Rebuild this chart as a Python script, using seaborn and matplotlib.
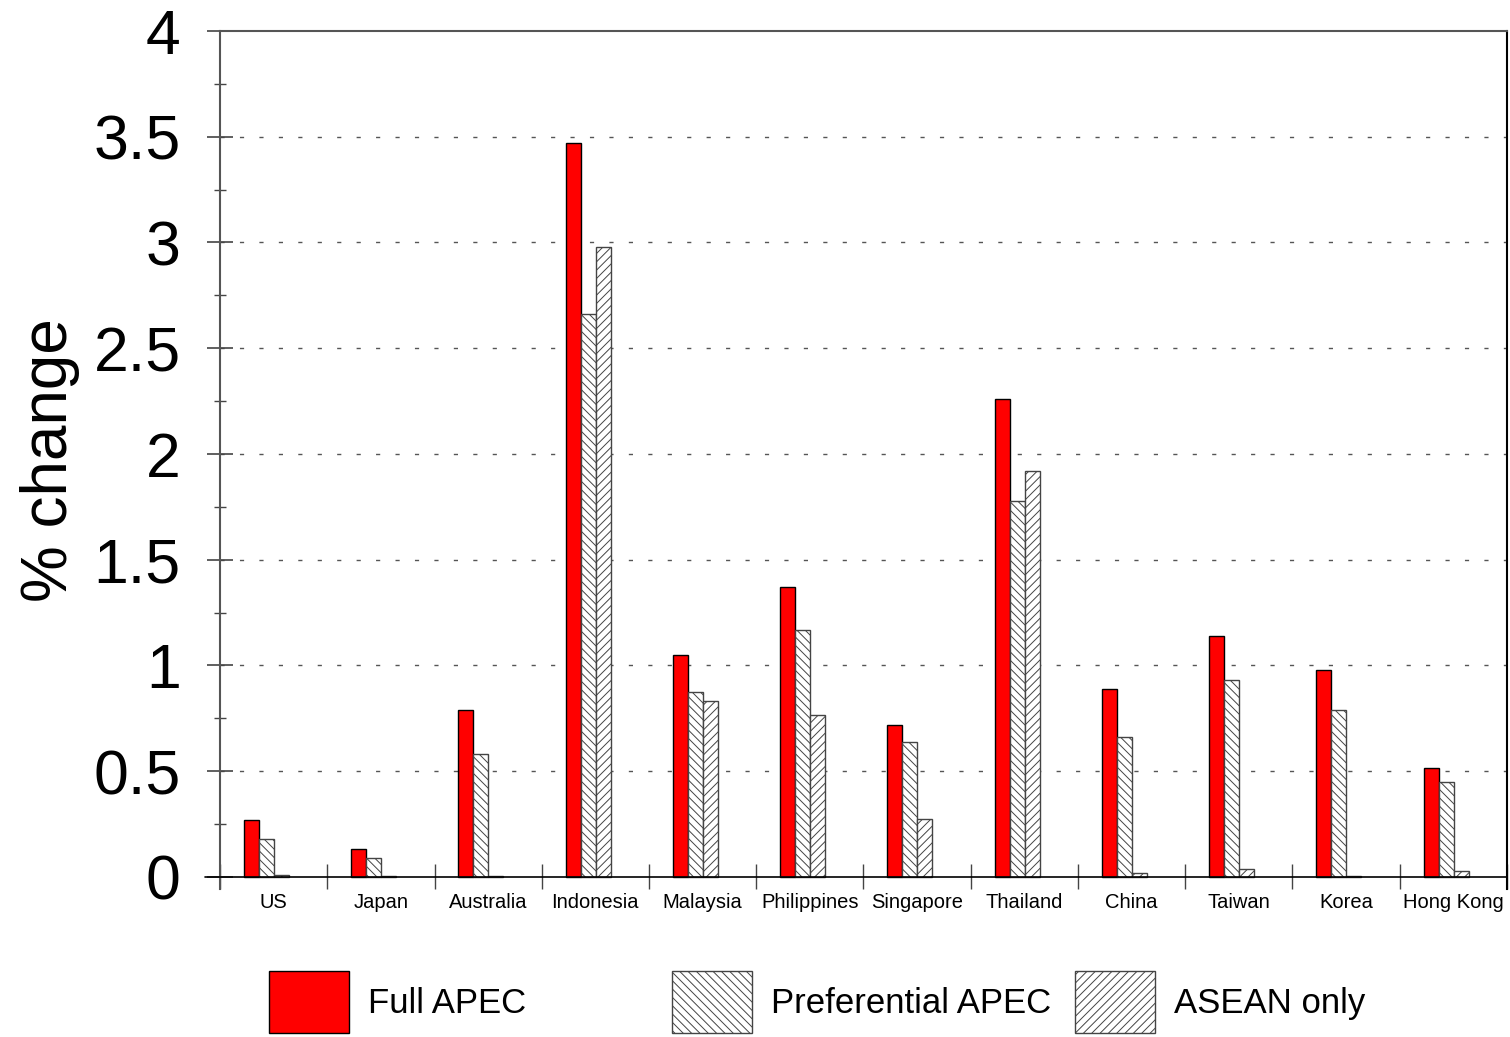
import numpy as np
import pandas as pd
import matplotlib
matplotlib.use("Agg")
import matplotlib.pyplot as plt
import seaborn as sns

#---- Data ---------------------------------------------------------####

countries = ["US", "Japan", "Australia", "Indonesia", "Malaysia", "Philippines",
             "Singapore", "Thailand", "China", "Taiwan", "Korea", "Hong Kong"]
scenarios = ["Full APEC", "Preferential APEC", "ASEAN only"]

full_apec = [0.27, 0.13, 0.79, 3.47, 1.05, 1.37, 0.72, 2.26, 0.89, 1.14, 0.98, 0.515]
pref_apec = [0.18, 0.09, 0.58, 2.66, 0.875, 1.17, 0.64, 1.78, 0.66, 0.93, 0.79, 0.45]
asean_only = [0.01, 0.005, 0.003, 2.98, 0.83, 0.766, 0.274, 1.92, 0.02, 0.04, 0.003, 0.028]

df = pd.DataFrame({
    "country": countries * 3,
    "scenario": np.repeat(scenarios, len(countries)),
    "value": full_apec + pref_apec + asean_only,
})

#---- Plot ---------------------------------------------------------####

sns.set_style("white")
plt.rcParams["font.family"] = ["Liberation Sans", "DejaVu Sans"]
plt.rcParams["hatch.linewidth"] = 0.7
plt.rcParams["text.color"] = "black"
plt.rcParams["axes.labelcolor"] = "black"
plt.rcParams["xtick.color"] = "black"
plt.rcParams["ytick.color"] = "black"

fig = plt.figure(figsize=(15.1, 10.37), dpi=100)
ax = fig.add_axes([0.1457, 0.1427, 0.998 - 0.1457, 0.9701 - 0.1427])

palette = {"Full APEC": "#ff0000", "Preferential APEC": "white", "ASEAN only": "white"}
sns.barplot(data=df, x="country", y="value", hue="scenario", order=countries,
            hue_order=scenarios, palette=palette, width=0.42, saturation=1,
            edgecolor="black", linewidth=1.0, legend=False, ax=ax)

hatches = [None, "\\\\\\\\", "////"]
for cont, h in zip(ax.containers, hatches):
    for bar in cont:
        if h:
            bar.set_hatch(h)
            try:
                bar.set_hatchcolor("#666666")
            except AttributeError:
                bar.set_edgecolor("#444444")

shift = 0.068
ax.set_xlim(-0.5 + shift, 11.5 + shift)
ax.set_ylim(-0.057, 4)

# y axis
ax.set_yticks(np.arange(0, 4.01, 0.5))
ax.set_yticklabels(["0", "0.5", "1", "1.5", "2", "2.5", "3", "3.5", "4"], fontsize=45)
ax.set_yticks(np.arange(0.25, 4, 0.5), minor=True)
ax.tick_params(axis="y", which="major", direction="inout", length=18.5, width=1.2,
               color="#444444", labelcolor="black", pad=19, left=True)
ax.tick_params(axis="y", which="minor", direction="inout", length=8.6, width=1.0,
               color="#444444", left=True)
ax.set_ylabel("% change", fontsize=46, labelpad=10, color="black")

# x axis: labels at category centers, separators as minor ticks
ax.set_xticks(np.arange(len(countries)) + shift)
ax.set_xticklabels(countries, fontsize=14.5)
ax.set_xticks(np.arange(len(countries) + 1) - 0.5 + shift, minor=True)
ax.tick_params(axis="x", which="major", length=0, pad=3, labelcolor="black")
ax.tick_params(axis="x", which="minor", direction="in", length=18, width=1.0,
               color="#444444", bottom=True)
ax.set_xlabel("")

# dotted gridlines
for yv in np.arange(0.5, 4, 0.5):
    ax.axhline(yv, color="#555555", linewidth=1.0, linestyle=(0, (3, 11)), zorder=0)
ax.axhline(0, xmin=-0.012, xmax=1, color="black", linewidth=1.2, clip_on=False, zorder=3)

for side in ["left", "top"]:
    ax.spines[side].set_color("#555555")
    ax.spines[side].set_linewidth(1.5)
ax.spines["right"].set_color("black")
ax.spines["right"].set_linewidth(1.5)
ax.spines["bottom"].set_visible(False)

# legend: three evenly spaced entries
handles = [ax.containers[i][0] for i in range(3)]
for i, (hd, lab) in enumerate(zip(handles, scenarios)):
    x0 = (269 + 403 * i) / 1510
    fig.legend([hd], [lab], loc="center left", bbox_to_anchor=(x0, 0.0338),
               frameon=False, fontsize=25, handlelength=2.3, handleheight=2.35,
               handletextpad=0.55, borderpad=0, borderaxespad=0, labelcolor="black")

plt.savefig("out.png", dpi=100)
